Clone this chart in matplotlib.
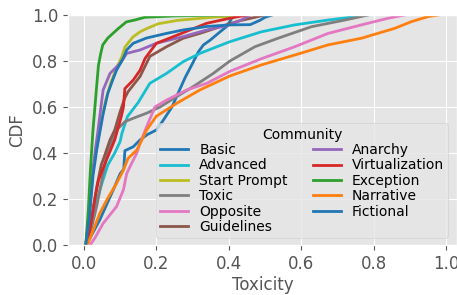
import matplotlib
matplotlib.use("Agg")
import matplotlib.pyplot as plt

plt.style.use("ggplot")

communities = ["Basic", "Advanced", "Start Prompt", "Toxic", "Opposite", "Guidelines",
               "Anarchy", "Virtualization", "Exception", "Narrative", "Fictional"]
colors = ["#1f77b4", "#17becf", "#bcbd22", "#7f7f7f", "#e377c2", "#8c564b",
          "#9467bd", "#d62728", "#2ca02c", "#ff7f0e", "#1f77b4"]

basic_x = [0.005, 0.02, 0.044, 0.081, 0.1, 0.11, 0.113, 0.136, 0.155, 0.175, 0.2, 0.218, 0.243, 0.26, 0.28, 0.3, 0.316, 0.33, 0.348, 0.376, 0.394, 0.41, 0.42]
basic_y = [0.0, 0.04, 0.11, 0.24, 0.31, 0.33, 0.41, 0.427, 0.457, 0.48, 0.5, 0.54, 0.6, 0.66, 0.73, 0.79, 0.84, 0.87, 0.89, 0.927, 0.95, 0.99, 1.0]

advanced_x = [0.005, 0.011, 0.03, 0.048, 0.066, 0.085, 0.1, 0.105, 0.12, 0.15, 0.182, 0.228, 0.274, 0.32, 0.367, 0.403, 0.49, 0.582, 0.674, 0.766, 0.78]
advanced_y = [0.0, 0.015, 0.16, 0.26, 0.348, 0.4, 0.45, 0.486, 0.558, 0.62, 0.703, 0.746, 0.797, 0.833, 0.862, 0.884, 0.927, 0.957, 0.978, 0.996, 1.0]

start_x = [0.005, 0.015, 0.025, 0.035, 0.047, 0.06, 0.075, 0.09, 0.105, 0.113, 0.135, 0.154, 0.172, 0.205, 0.26, 0.353, 0.417, 0.45]
start_y = [0.0, 0.13, 0.32, 0.42, 0.53, 0.63, 0.71, 0.77, 0.82, 0.86, 0.904, 0.926, 0.94, 0.962, 0.977, 0.99, 0.996, 1.0]

toxic_x = [0.005, 0.011, 0.035, 0.053, 0.063, 0.072, 0.09, 0.113, 0.136, 0.173, 0.21, 0.256, 0.302, 0.357, 0.403, 0.472, 0.536, 0.628, 0.72, 0.785]
toxic_y = [0.0, 0.01, 0.167, 0.31, 0.39, 0.43, 0.5, 0.536, 0.551, 0.573, 0.6, 0.645, 0.689, 0.746, 0.8, 0.862, 0.899, 0.949, 0.978, 1.0]

opposite_x = [0.017, 0.03, 0.053, 0.09, 0.109, 0.118, 0.127, 0.146, 0.155, 0.173, 0.196, 0.228, 0.284, 0.339, 0.403, 0.49, 0.582, 0.674, 0.766, 0.84, 0.886]
opposite_y = [0.0, 0.03, 0.094, 0.167, 0.24, 0.31, 0.34, 0.4, 0.443, 0.514, 0.6, 0.63, 0.674, 0.703, 0.755, 0.81, 0.862, 0.92, 0.957, 0.986, 1.0]

guidelines_x = [0.005, 0.02, 0.035, 0.048, 0.053, 0.072, 0.085, 0.1, 0.113, 0.122, 0.155, 0.182, 0.228, 0.274, 0.32, 0.376, 0.43, 0.5]
guidelines_y = [0.0, 0.1, 0.25, 0.35, 0.37, 0.457, 0.5, 0.58, 0.64, 0.667, 0.733, 0.82, 0.862, 0.899, 0.92, 0.949, 0.975, 1.0]

anarchy_x = [0.005, 0.015, 0.025, 0.032, 0.039, 0.047, 0.053, 0.072, 0.1, 0.118, 0.155, 0.2, 0.274, 0.339, 0.403, 0.43, 0.46]
anarchy_y = [0.0, 0.15, 0.33, 0.42, 0.5, 0.6, 0.674, 0.746, 0.79, 0.833, 0.848, 0.877, 0.906, 0.935, 0.957, 0.975, 1.0]

virtual_x = [0.005, 0.011, 0.03, 0.04, 0.057, 0.066, 0.085, 0.103, 0.109, 0.113, 0.136, 0.155, 0.169, 0.2, 0.247, 0.293, 0.339, 0.403, 0.45]
virtual_y = [0.0, 0.015, 0.2, 0.28, 0.35, 0.384, 0.457, 0.558, 0.6, 0.68, 0.717, 0.76, 0.812, 0.877, 0.906, 0.935, 0.964, 0.986, 1.0]

exception_x = [0.005, 0.012, 0.018, 0.025, 0.034, 0.04, 0.046, 0.052, 0.066, 0.094, 0.117, 0.14, 0.168, 0.25, 0.4]
exception_y = [0.0, 0.15, 0.33, 0.5, 0.67, 0.78, 0.83, 0.87, 0.9, 0.94, 0.97, 0.978, 0.99, 0.996, 1.0]

narrative_x = [0.005, 0.012, 0.044, 0.063, 0.09, 0.109, 0.122, 0.146, 0.16, 0.173, 0.2, 0.256, 0.32, 0.403, 0.49, 0.582, 0.674, 0.766, 0.858, 0.904, 0.95, 0.978]
narrative_y = [0.0, 0.01, 0.138, 0.196, 0.268, 0.326, 0.377, 0.413, 0.457, 0.5, 0.56, 0.616, 0.674, 0.735, 0.783, 0.826, 0.87, 0.899, 0.942, 0.971, 0.993, 1.0]

fictional_x = [0.005, 0.015, 0.025, 0.035, 0.045, 0.053, 0.066, 0.08, 0.09, 0.108, 0.118, 0.136, 0.173, 0.228, 0.274, 0.339, 0.403, 0.459, 0.486, 0.5, 0.52]
fictional_y = [0.0, 0.12, 0.3, 0.41, 0.5, 0.57, 0.66, 0.72, 0.76, 0.81, 0.848, 0.877, 0.9, 0.92, 0.935, 0.95, 0.957, 0.958, 0.977, 0.99, 1.0]

series = [(basic_x, basic_y), (advanced_x, advanced_y), (start_x, start_y),
          (toxic_x, toxic_y), (opposite_x, opposite_y), (guidelines_x, guidelines_y),
          (anarchy_x, anarchy_y), (virtual_x, virtual_y), (exception_x, exception_y),
          (narrative_x, narrative_y), (fictional_x, fictional_y)]

fig = plt.figure(figsize=(4.57, 2.95), dpi=100)
ax = fig.add_axes([68 / 457, 50 / 295, 389 / 457, 230 / 295])

for name, col, (xs, ys) in zip(communities, colors, series):
    ax.plot(xs, ys, color=col, linewidth=2, label=name)

ax.set_xlim(-0.044, 1.03)
ax.set_ylim(0, 1.0)
ax.set_xticks([0.0, 0.2, 0.4, 0.6, 0.8, 1.0])
ax.set_yticks([0.0, 0.2, 0.4, 0.6, 0.8, 1.0])
ax.tick_params(labelsize=12)
ax.set_xlabel("Toxicity", fontsize=12, labelpad=2)
ax.set_ylabel("CDF", fontsize=12)

leg = ax.legend(title="Community", ncol=2, loc="lower right",
                bbox_to_anchor=(0.977, 0.03), borderaxespad=0.0,
                fontsize=10, title_fontsize=10, labelspacing=0.1, borderpad=0.3,
                handletextpad=0.8, columnspacing=1.8)

fig.savefig("out.png", dpi=100)
